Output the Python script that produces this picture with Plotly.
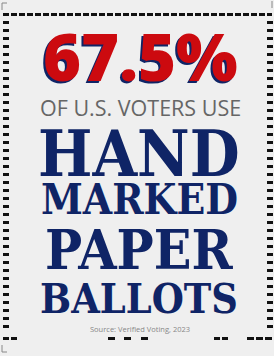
import plotly.graph_objects as go

# ---- content ----
headline_value = 67.5
headline_text = f"{headline_value}%"
subtitle = "OF U.S. VOTERS USE"
main_lines = ["HAND", "MARKED", "PAPER", "BALLOTS"]
source_text = "Source: Verified Voting, 2023"

# ---- style ----
W, H = 274, 356
BG = "#efefef"
RED = "#cc0a0f"
NAVY = "#0f2466"
GRAY = "#666666"
DASH = "#111111"

fig = go.Figure()

shapes = []
def seg(x0, y0, x1, y1, w=3, dash=None, color=DASH):
    d = dict(type="line", x0=x0, y0=y0, x1=x1, y1=y1, xref="x", yref="y",
             line=dict(color=color, width=w))
    if dash:
        d["line"]["dash"] = dash
    shapes.append(d)

# top dashed rule
seg(3, 14.5, 272, 14.5, dash="6px,2px")
# side ticks
y = 22
while y <= 331:
    seg(3, y + 0.5, 9, y + 0.5)
    seg(267, y + 0.5, 273, y + 0.5)
    y += 8
# bottom dashes
seg(3, 338.5, 17, 338.5, dash="6px,2px")
for x0 in (108, 124, 141):
    seg(x0, 338.5, x0 + 7, 338.5)
seg(214, 338.5, 228, 338.5, dash="6px,2px")
seg(247, 338.5, 272, 338.5, dash="7px,2px")
# corner marks
seg(2, 3, 2, 10, w=1, color="#888")
seg(2, 3, 7, 3, w=1, color="#888")
seg(2, 345, 2, 352, w=1, color="#888")
seg(2, 352, 7, 352, w=1, color="#888")
seg(272, 1, 272, 8, w=1, color="#888")

annotations = []
def txt(s, x, y, size, color, family, weight="normal", shadow="none"):
    f = dict(size=size, color=color, family=family, weight=weight, shadow=shadow)
    annotations.append(dict(text=s, x=x, y=y, xref="x", yref="y",
                            xanchor="center", yanchor="middle", showarrow=False,
                            font=f))

txt(headline_text, 140, 56, 65, RED, "Open Sans", weight=800,
    shadow="-2px 2px 0px " + NAVY)
txt(subtitle, 140, 107, 21.5, GRAY, "Open Sans", weight=400)
slab = "DejaVu Serif Condensed, DejaVu Serif"
sizes = [64, 42, 55, 41]
ys = [153, 199, 249, 299]
for s, sz, yy in zip(main_lines, sizes, ys):
    txt(s, 139, yy, sz, NAVY, slab, weight="bold")
txt(source_text, 140, 329, 7.5, "#888888", "Open Sans")

fig.update_layout(
    width=W, height=H, margin=dict(l=0, r=0, t=0, b=0),
    paper_bgcolor=BG, plot_bgcolor=BG,
    xaxis=dict(range=[0, W], visible=False, fixedrange=True),
    yaxis=dict(range=[H, 0], visible=False, fixedrange=True),
    shapes=shapes, annotations=annotations, showlegend=False,
)
fig.write_html("out.html", config={"displayModeBar": False},
               post_script="document.body.style.margin='0';document.body.style.background='#efefef';")
